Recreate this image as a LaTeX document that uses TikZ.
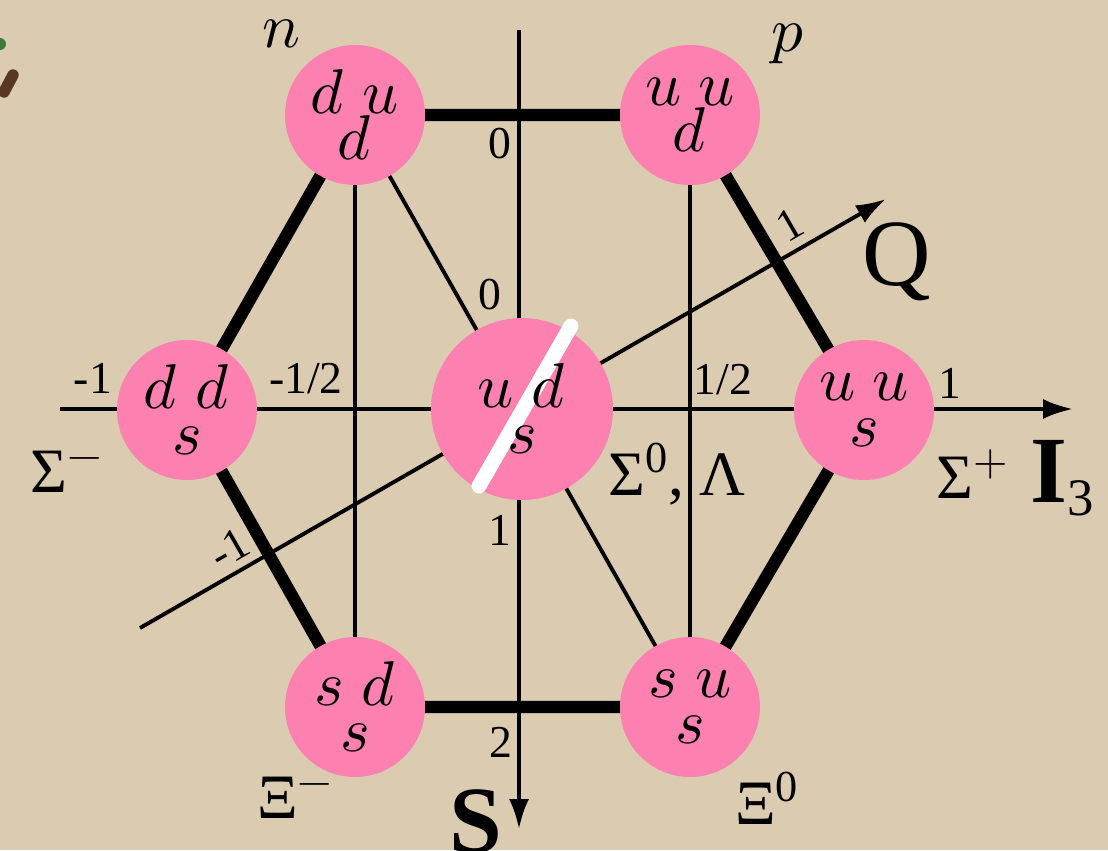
\documentclass[tikz,border=0pt]{standalone}
\usepackage{fontspec}
\usepackage{unicode-math}
\setmainfont{Liberation Serif}
\setmathfont{Latin Modern Math}
\usetikzlibrary{arrows.meta, backgrounds}
\definecolor{parchment}{RGB}{219,203,177}
\definecolor{quarkpink}{RGB}{252,128,176}
\definecolor{inkbrown}{RGB}{88,56,32}
\definecolor{leafgreen}{RGB}{62,122,58}
\pgfdeclarelayer{edges}
\pgfsetlayers{background,edges,main}

\begin{document}
\begin{tikzpicture}[
    x=0.02cm, y=-0.02cm,
    quarktext/.style={align=center, inner sep=0pt,
                      font=\fontsize{36}{26.5}\selectfont},
    quark/.style={quarktext, circle, fill=quarkpink, minimum size=2.8cm},
    hexedge/.style={line width=7pt},
    grid/.style={line width=2.2pt},
    axis/.style={line width=2.2pt, -{Latex[length=6mm, width=4mm]}},
    num/.style={font=\fontsize{26}{28}\selectfont},
    particle/.style={font=\fontsize{36}{40}\selectfont},
    axlabel/.style={font=\fontsize{54}{58}\selectfont},
]
\useasboundingbox (0,0) rectangle (1108,850);
\begin{pgfonlayer}{background}
  \fill[parchment] (0,0) rectangle (1108,850);
\end{pgfonlayer}
% corner of a neighbouring sketch
\fill[leafgreen] (0,44) circle (0.12cm);
\draw[inkbrown, line width=6.5pt, line cap=round] (4,92) -- (13,75);

% baryon octet
\node[quark] (n)  at (355,115) {$d\;u$\\$d$};
\node[quark] (p)  at (690,115) {$u\;u$\\$d$};
\node[quark] (Sm) at (187,410) {$d\;d$\\$s$};
\node[quark, minimum size=3.64cm] (L) at (522,409) {};
\node[quark] (Sp) at (864,410) {$u\;u$\\$s$};
\node[quark] (Xm) at (355,707) {$s\;d$\\$s$};
\node[quark] (X0) at (690,707) {$s\;u$\\$s$};
\draw[white, line width=8.5pt, line cap=round] (571,326) -- (479,486);
\node[quarktext] (Ltext) at (L) {$u\;d$\\$s$};

% axes
\coordinate (i3 start) at (60,409);
\coordinate (i3 end)   at (1073,409);
\coordinate (s start)  at (519,30);
\coordinate (s end)    at (519,829);
\coordinate (q start)  at (140,628);
\coordinate (q end)    at (886,199);

\begin{pgfonlayer}{edges}
  \draw[hexedge] (n.center) -- (p.center) -- (Sp.center) -- (X0.center)
     -- (Xm.center) -- (Sm.center) -- cycle;
  \draw[grid] (n.center) -- (Xm.center);
  \draw[grid] (p.center) -- (X0.center);
  \draw[grid] (n.center) -- (X0.center);
  \draw[axis] (i3 start) -- (i3 end);
  \draw[axis] (s start) -- (s end);
  \draw[axis] (q start) -- (q end);
\end{pgfonlayer}

% scale marks
\node[num] (i3m1)  at (93,378)  {-1};
\node[num] (i3mh)  at (306,379) {-1/2};
\node[num] (i3ph)  at (723,380) {1/2};
\node[num] (i3p1)  at (950,383) {1};
\node[num] (s0a)   at (500,144) {0};
\node[num] (s0b)   at (490,295) {0};
\node[num] (s1)    at (500,530) {1};
\node[num] (s2)    at (501,742) {2};
\node[num, rotate=30] (q1)  at (790,225) {1};
\node[num, rotate=30] (qm1) at (229,549) {-1};

% axis names
\node[axlabel] (Qlab) at (897,262) {Q};
\node[axlabel, font=\fontsize{54}{58}\selectfont\bfseries] (Slab) at (476,822) {S};
\node[axlabel, font=\fontsize{54}{58}\selectfont\bfseries] (Ilab) at (1062,478)
   {I\raisebox{-0.3ex}{\fontsize{30}{32}\mdseries\selectfont 3}};

% particle names
\node[particle] (nlab)   at (281,34)  {$n$};
\node[particle] (plab)   at (788,44)  {$p$};
\node[particle] (Smlab)  at (67,472)  {Σ$^{-}$};
\node[particle] (Llab)   at (677,474) {Σ\textsuperscript{0}, Λ};
\node[particle] (Splab)  at (973,474) {Σ$^{+}$};
\node[particle] (Xmlab)  at (295,798) {Ξ$^{-}$};
\node[particle] (X0lab)  at (767,798) {Ξ\textsuperscript{0}};
\end{tikzpicture}
\end{document}
